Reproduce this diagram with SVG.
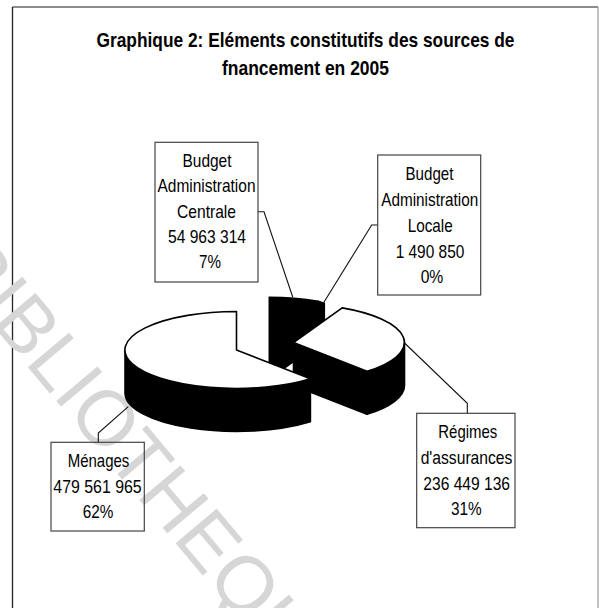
<svg xmlns="http://www.w3.org/2000/svg" width="599" height="608" viewBox="0 0 599 608">
  <style>
    .title { font-family: "Liberation Sans", Arial, sans-serif; font-weight: bold; font-size: 21px; fill: #000; text-anchor: middle; }
    .lbl { font-family: "Liberation Sans", Arial, sans-serif; font-size: 18.5px; fill: #000; text-anchor: middle; }
    .box { fill: none; stroke: #444; stroke-width: 1.2; }
    .face { fill: #fff; stroke: #000; stroke-width: 1.6; stroke-linejoin: round; }
    .dark { fill: #000; stroke: #000; stroke-width: 1.6; stroke-linejoin: round; }
    .lead { fill: none; stroke: #111; stroke-width: 1.1; }
    .stamp { font-family: "Liberation Sans", Arial, sans-serif; font-size: 78px; fill: #d6d6d6; }
  </style>

  <!-- page background and chart frame -->
  <rect x="0" y="0" width="599" height="608" fill="#fff"/>
  <g id="frame" fill="none">
    <line x1="12.5" y1="7" x2="598" y2="7" stroke="#666" stroke-width="1.3"/>
    <line x1="12.5" y1="7" x2="12.5" y2="608" stroke="#222" stroke-width="1.3"/>
    <line x1="598" y1="7" x2="598" y2="608" stroke="#999" stroke-width="1.2"/>
  </g>

  <!-- library stamp across the page -->
  <text class="stamp" transform="translate(-57,266) rotate(50)">BIBLIOTHEQUE</text>

  <!-- title -->
  <g id="title">
    <text class="title" x="305.5" y="46.5" textLength="418" lengthAdjust="spacingAndGlyphs">Graphique 2: Eléments constitutifs des sources de</text>
    <text class="title" x="305.5" y="75" textLength="167" lengthAdjust="spacingAndGlyphs">fnancement en 2005</text>
  </g>

  <!-- 3D exploded pie: back slices first -->
  <g id="slice-budget-centrale">
    <path class="dark" d="M269.3,297.3 A111,38.5 0 0 1 318,301.2 L318,344 L269.3,378.8 Z"/>
  </g>
  <g id="slice-budget-locale">
    <path class="dark" d="M318,301.2 L324.3,303.3 L324.3,346 L318,344 Z"/>
  </g>
  <g id="slice-regimes">
    <path class="dark" d="M293.5,342.5 L367,371.3 L367,414.3 L293.5,385.5 Z"/>
    <path class="dark" d="M404.5,342.5 A111,38.5 0 0 1 367,371.3 L367,414.3 A111,38.5 0 0 0 404.5,385.5 Z"/>
    <path class="face" d="M293.5,342.5 L342.2,307.9 A111,38.5 0 0 1 367,371.3 Z"/>
  </g>
  <g id="slice-menages">
    <path class="dark" d="M125,350 A111.5,38.5 0 0 0 310.4,378.8 L310.4,421.8 A111.5,38.5 0 0 1 125,393 Z"/>
    <path class="face" d="M236.5,350 L236.5,311.5 A111.5,38.5 0 1 0 310.4,378.8 Z"/>
  </g>

  <!-- leader lines from labels to slices -->
  <g id="connectors">
    <polyline class="lead" points="257.8,211.7 264,211.7 292.7,297"/>
    <polyline class="lead" points="377.7,225 371.7,225 323.3,303.3"/>
    <polyline class="lead" points="98.3,442.3 98.3,433 128.3,406.7"/>
    <polyline class="lead" points="467.3,413.3 467.3,403.3 404,342.5"/>
  </g>

  <!-- data labels -->
  <g id="label-budget-centrale">
    <rect class="box" x="155" y="142.3" width="103" height="139.7"/>
    <text class="lbl" x="207" y="166.7" textLength="49" lengthAdjust="spacingAndGlyphs">Budget</text>
    <text class="lbl" x="206.5" y="192.3" textLength="98" lengthAdjust="spacingAndGlyphs">Administration</text>
    <text class="lbl" x="206.5" y="217.5" textLength="59" lengthAdjust="spacingAndGlyphs">Centrale</text>
    <text class="lbl" x="207" y="243" textLength="78" lengthAdjust="spacingAndGlyphs">54 963 314</text>
    <text class="lbl" x="210" y="268" textLength="22" lengthAdjust="spacingAndGlyphs">7%</text>
  </g>
  <g id="label-budget-locale">
    <rect class="box" x="377.7" y="155" width="103" height="140"/>
    <text class="lbl" x="429.5" y="180" textLength="48" lengthAdjust="spacingAndGlyphs">Budget</text>
    <text class="lbl" x="429.7" y="205.5" textLength="97" lengthAdjust="spacingAndGlyphs">Administration</text>
    <text class="lbl" x="430.2" y="232" textLength="45" lengthAdjust="spacingAndGlyphs">Locale</text>
    <text class="lbl" x="430" y="257.5" textLength="68.7" lengthAdjust="spacingAndGlyphs">1 490 850</text>
    <text class="lbl" x="432" y="283" textLength="22.7" lengthAdjust="spacingAndGlyphs">0%</text>
  </g>
  <g id="label-menages">
    <rect class="box" x="51" y="442.3" width="93.3" height="88.7"/>
    <text class="lbl" x="98.5" y="466.7" textLength="61.7" lengthAdjust="spacingAndGlyphs">Ménages</text>
    <text class="lbl" x="97.5" y="493.3" textLength="88.3" lengthAdjust="spacingAndGlyphs">479 561 965</text>
    <text class="lbl" x="98" y="518.3" textLength="30.6" lengthAdjust="spacingAndGlyphs">62%</text>
  </g>
  <g id="label-regimes">
    <rect class="box" x="416.7" y="413.3" width="98.3" height="114.4"/>
    <text class="lbl" x="467.8" y="438.3" textLength="59" lengthAdjust="spacingAndGlyphs">Régimes</text>
    <text class="lbl" x="466.5" y="464" textLength="91.7" lengthAdjust="spacingAndGlyphs">d'assurances</text>
    <text class="lbl" x="466.7" y="490" textLength="86.7" lengthAdjust="spacingAndGlyphs">236 449 136</text>
    <text class="lbl" x="466.3" y="515" textLength="30.7" lengthAdjust="spacingAndGlyphs">31%</text>
  </g>
</svg>
